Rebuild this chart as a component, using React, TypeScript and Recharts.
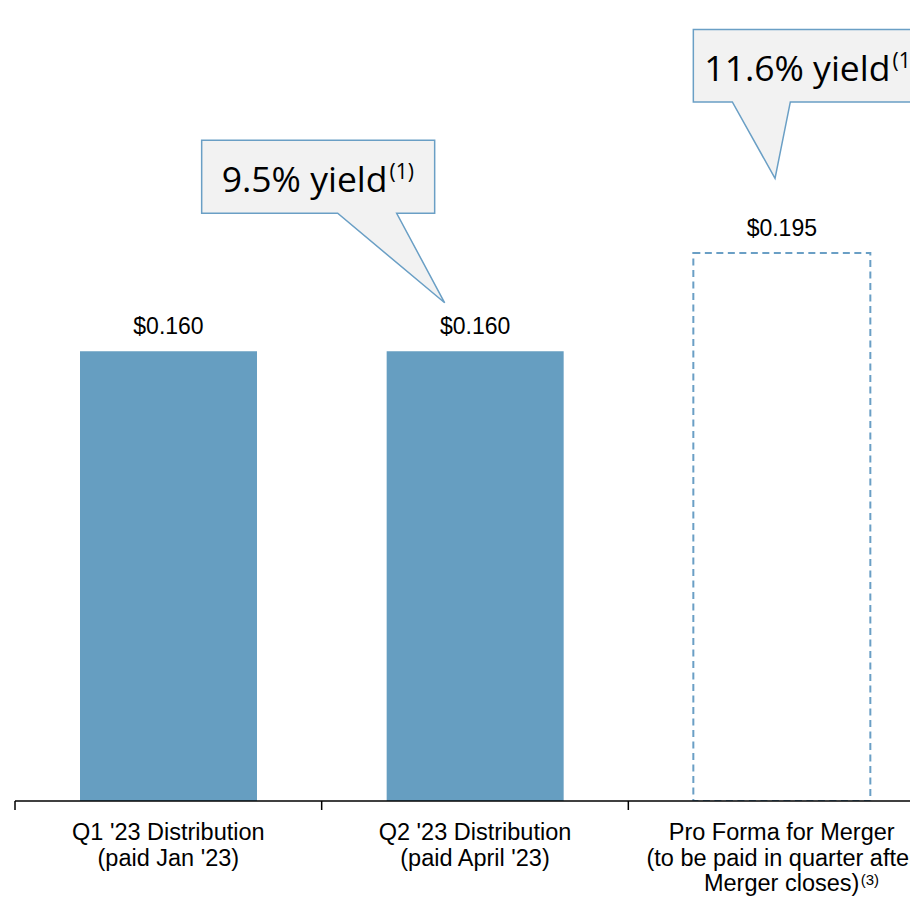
import React from "react";
import { BarChart, Bar, XAxis, YAxis, Cell, LabelList } from "recharts";

// ---- data ----
const categories = ["Q1 '23 Distribution", "Q2 '23 Distribution", "Pro Forma for Merger"];
const categoryLine2 = ["(paid Jan '23)", "(paid April '23)", "(to be paid in quarter after"];
const categoryLine3 = ["", "", "Merger closes)"];
const categoryNotes = ["", "", "(3)"];
const distributions = [0.16, 0.16, 0.195];
const valueLabels = ["$0.160", "$0.160", "$0.195"];
const isProForma = [false, false, true];
const yieldCallouts = ["", "9.5% yield", "11.6% yield"];
const yieldNotes = ["", "(1)", "(1)"];

const data = categories.map((c, i) => ({
  category: c,
  value: distributions[i],
}));

// ---- styles / layout (relative to the bar's own geometry) ----
const BAR_COLOR = "#669ec1";
const OUTLINE_COLOR = "#6a9fc5";
const BUBBLE_FILL = "#f2f2f2";
const SANS = "'Liberation Sans', Arial, sans-serif";
const BUBBLE_FONT = "'Open Sans', 'Noto Sans', sans-serif";

const calloutLayout = [
  null,
  { left: -185, right: 48, top: -211, bottom: -138, base1: -49, base2: 10, tipX: 58, tipY: -48.5, textX: 20 },
  { left: 0, right: 240, top: -223.5, bottom: -151, base1: 39, base2: 97, tipX: 81.7, tipY: -74.5, textX: 11 },
];

const CategoryTick = (props: any) => {
  const { x, y, payload, index } = props;
  const off = payload && typeof payload.offset === "number" ? payload.offset : 0;
  const i = typeof index === "number" ? index : categories.indexOf(payload.value);
  const l2 = categoryLine2[i];
  const l3 = categoryLine3[i];
  const note = categoryNotes[i];
  return (
    <g>
      <line x1={x - off} y1={y} x2={x - off} y2={y + 9} stroke="#000" strokeWidth={1.5} />
      {i === categories.length - 1 && (
        <line x1={x + off} y1={y} x2={x + off} y2={y + 9} stroke="#000" strokeWidth={1.5} />
      )}
      <text x={x} y={y + 38.5} textAnchor="middle" fontFamily={SANS} fontSize={23.5} fill="#000">
        {payload.value}
      </text>
      <text x={x} y={y + 64.5} textAnchor="middle" fontFamily={SANS} fontSize={23.5} fill="#000">
        {l2}
      </text>
      {l3 && (
        <text x={x} y={y + 89.5} textAnchor="middle" fontFamily={SANS} fontSize={23.5} fill="#000">
          {l3}
        </text>
      )}
      {l3 && note && (
        <text x={x + 79} y={y + 83.5} textAnchor="start" fontFamily={SANS} fontSize={15} fill="#000">
          {note}
        </text>
      )}
    </g>
  );
};

const ValueLabel = (props: any) => {
  const { x, y, width, index } = props;
  return (
    <text x={x + width / 2} y={y - 17} textAnchor="middle" fontFamily={SANS} fontSize={23} fill="#000">
      {valueLabels[index]}
    </text>
  );
};

const Callout = (props: any) => {
  const { x, y, index } = props;
  const lay = calloutLayout[index];
  const txt = yieldCallouts[index];
  if (!lay || !txt) return null;
  const d = [
    `M${x + lay.left},${y + lay.top}`,
    `L${x + lay.right},${y + lay.top}`,
    `L${x + lay.right},${y + lay.bottom}`,
    `L${x + lay.base2},${y + lay.bottom}`,
    `L${x + lay.tipX},${y + lay.tipY}`,
    `L${x + lay.base1},${y + lay.bottom}`,
    `L${x + lay.left},${y + lay.bottom}`,
    "Z",
  ].join(" ");
  return (
    <g>
      <path d={d} fill={BUBBLE_FILL} stroke={OUTLINE_COLOR} strokeWidth={1.5} strokeLinejoin="miter" />
      <text x={x + lay.left + lay.textX} y={y + lay.top + 52} fontFamily={BUBBLE_FONT} fontSize={35.5} fill="#000">
        {txt}
        <tspan fontSize={21} dx={2} dy={-13}>{yieldNotes[index]}</tspan>
      </text>
    </g>
  );
};

export default function App() {
  return (
    <div
      style={{
        position: "absolute",
        left: 0,
        top: 0,
        width: 910,
        height: 897,
        overflow: "hidden",
        background: "#fff",
      }}
    >
      <BarChart
        width={935}
        height={897}
        data={data}
        margin={{ top: 14, right: 0, bottom: 0, left: 15 }}
      >
        <XAxis
          dataKey="category"
          height={96}
          axisLine={{ stroke: "#000", strokeWidth: 1.5 }}
          tickLine={false}
          tickSize={0}
          tickMargin={0}
          interval={0}
          tick={<CategoryTick />}
        />
        <YAxis hide domain={[0, 0.28]} allowDataOverflow />
        <Bar dataKey="value" barSize={177} isAnimationActive={false}>
          {data.map((_, i) => (
            <Cell
              key={i}
              fill={isProForma[i] ? "#ffffff" : BAR_COLOR}
              stroke={isProForma[i] ? OUTLINE_COLOR : "none"}
              strokeWidth={isProForma[i] ? 2 : 0}
              strokeDasharray={isProForma[i] ? "7 4.5" : undefined}
            />
          ))}
          <LabelList dataKey="value" content={<ValueLabel />} />
          <LabelList dataKey="value" content={<Callout />} />
        </Bar>
      </BarChart>
    </div>
  );
}
